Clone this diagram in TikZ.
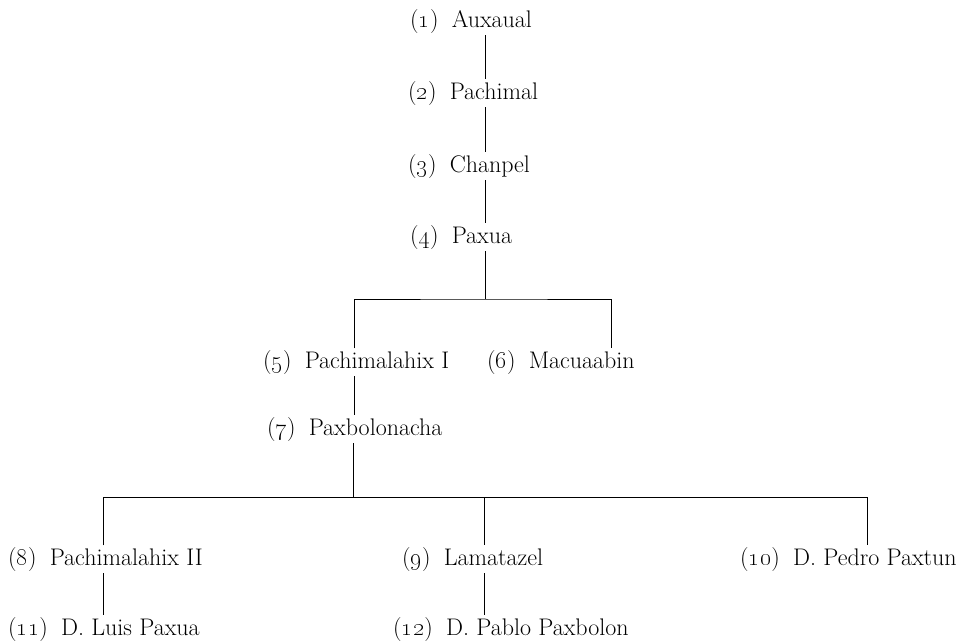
\documentclass[tikz,border=0pt]{standalone}
\newcommand\famlabel[2]{(\oldstylenums{#1})\hspace{0.55em}#2}
\begin{document}
\begin{tikzpicture}[x=1pt,y=-1pt,
  person/.style={anchor=base west, inner xsep=0pt, inner ysep=2.5pt,
    text height=17pt, text depth=5.5pt, font=\fontsize{24}{28}\selectfont, text=black},
  link/.style={line width=0.9pt, draw=black}]
\useasboundingbox[fill=white] (0,0) rectangle (963,641);

\node[person] (n1)  at (410,27)  {\famlabel{1}{Auxaual}};
\node[person] (n2)  at (408,99)  {\famlabel{2}{Pachimal}};
\node[person] (n3)  at (408,172) {\famlabel{3}{Chanpel}};
\node[person] (n4)  at (410,243) {\famlabel{4}{Paxua}};
\node[person] (n5)  at (263,368) {\famlabel{5}{Pachimalahix I}};
\node[person] (n6)  at (487,368) {\famlabel{6}{Macuaabin}};
\node[person] (n7)  at (267,435) {\famlabel{7}{Paxbolonacha}};
\node[person] (n8)  at (8,565)   {\famlabel{8}{Pachimalahix II}};
\node[person] (n9)  at (402,565) {\famlabel{9}{Lamatazel}};
\node[person] (n10) at (740,565) {\famlabel{10}{D. Pedro Paxtun}};
\node[person] (n11) at (8,635)   {\famlabel{11}{D. Luis Paxua}};
\node[person] (n12) at (393,635) {\famlabel{12}{D. Pablo Paxbolon}};

\coordinate (x1) at (485,0);
\coordinate (bar1) at (485,299);
\coordinate (x5) at (354,0);
\coordinate (x6) at (611,0);
\coordinate (bar2) at (353,497);
\coordinate (x8) at (103,0);
\coordinate (x9) at (484,0);
\coordinate (x10) at (867,0);

\draw[link] (n1.south -| x1) -- (n2.north -| x1);
\draw[link] (n2.south -| x1) -- (n3.north -| x1);
\draw[link] (n3.south -| x1) -- (n4.north -| x1);
\draw[link] (n4.south -| bar1) -- (bar1);
\draw[link] (n5.north -| x5) |- (bar1) -| (n6.north -| x6);
\draw[link] (n5.south -| x5) -- (n7.north -| x5);
\draw[link] (n7.south -| bar2) -- (bar2);
\draw[link] (n8.north -| x8) |- (bar2) -| (n10.north -| x10);
\draw[link] (bar2 -| x9) -- (n9.north -| x9);
\draw[link] (n8.south -| x8) -- (n11.north -| x8);
\draw[link] (n9.south -| x9) -- (n12.north -| x9);
\end{tikzpicture}
\end{document}
